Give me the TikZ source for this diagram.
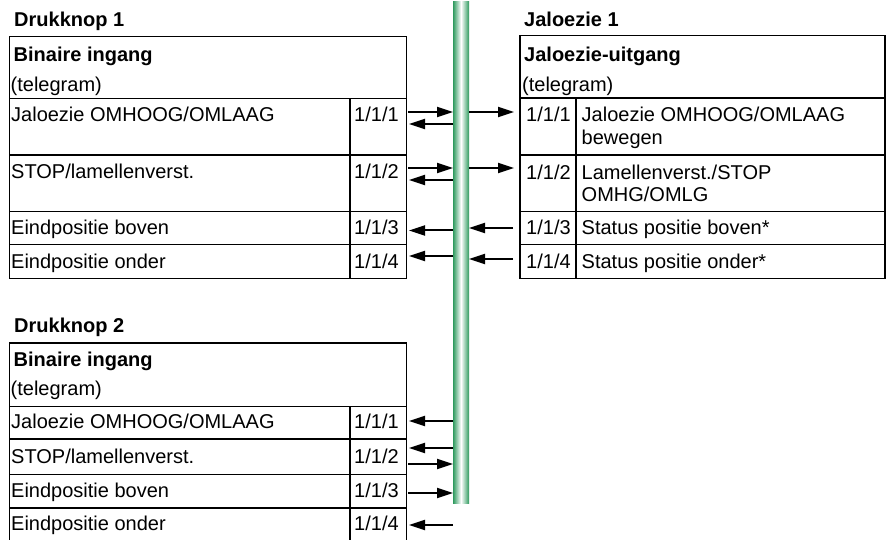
\documentclass[tikz,border=0pt]{standalone}
\usepackage{fontspec}
\setmainfont{Liberation Sans}
\usetikzlibrary{arrows.meta}
\definecolor{busgreen}{RGB}{46,154,94}
\begin{document}
\begin{tikzpicture}[x=1pt,y=-1pt,
  frame/.style={line width=1.8pt},
  txt/.style={anchor=base west, inner sep=0pt, font=\fontsize{20}{24}\selectfont},
  ttl/.style={anchor=base west, inner sep=0pt, font=\fontsize{20}{24}\selectfont\bfseries},
  sig/.style={line width=2pt, -{Triangle[length=16pt,width=10pt]}}]
\useasboundingbox (0,0) rectangle (886,540);

% bus line
\shade[left color=busgreen, right color=busgreen, middle color=white]
  (453,1.5) rectangle (469,503);

% ---- Drukknop 1 ----
\draw[frame] (9.5,36.5) rectangle (406.5,278.5);
\draw[frame] (9.5,98.5) -- (406.5,98.5)
             (9.5,155) -- (406.5,155)
             (9.5,211.5) -- (406.5,211.5)
             (9.5,244.5) -- (406.5,244.5)
             (350,98.5) -- (350,278.5);
\node[ttl] (t1) at (14,26.5) {Drukknop 1};
\node[ttl] (h1) at (13.5,61.5) {Binaire ingang};
\node[txt] (s1) at (10.5,92) {(telegram)};
\node[txt] (a1) at (11,122) {Jaloezie OMHOOG/OMLAAG};
\node[txt] (a2) at (11,179) {STOP/lamellenverst.};
\node[txt] (a3) at (11,235) {Eindpositie boven};
\node[txt] (a4) at (11,268.5) {Eindpositie onder};
\node[txt] (n1) at (354,122) {1/1/1};
\node[txt] (n2) at (354,179) {1/1/2};
\node[txt] (n3) at (354,235) {1/1/3};
\node[txt] (n4) at (354,268.5) {1/1/4};

% ---- Jaloezie 1 ----
\draw[frame] (520,35.5) rectangle (885,278.5);
\draw[frame] (520,98) -- (885,98)
             (520,155) -- (885,155)
             (520,211.5) -- (885,211.5)
             (520,244.5) -- (885,244.5)
             (576,98) -- (576,278.5);
\node[ttl] (t2) at (524,26.5) {Jaloezie 1};
\node[ttl] (h2) at (524,61.5) {Jaloezie-uitgang};
\node[txt] (s2) at (522,92) {(telegram)};
\node[txt] (m1) at (526,122) {1/1/1};
\node[txt] (m2) at (526,180) {1/1/2};
\node[txt] (m3) at (526,234.5) {1/1/3};
\node[txt] (m4) at (526,268.5) {1/1/4};
\node[txt] (b1) at (581.5,122) {Jaloezie OMHOOG/OMLAAG};
\node[txt] (b1x) at (581.5,144.5) {bewegen};
\node[txt] (b2) at (581.5,180) {Lamellenverst./STOP};
\node[txt] (b2x) at (581.5,202) {OMHG/OMLG};
\node[txt] (b3) at (581.5,234.5) {Status positie boven*};
\node[txt] (b4) at (581.5,268.5) {Status positie onder*};

% ---- Drukknop 2 ----
\draw[frame] (9.5,343) rectangle (406.5,541);
\draw[frame] (9.5,406.5) -- (406.5,406.5)
             (9.5,439) -- (406.5,439)
             (9.5,474.5) -- (406.5,474.5)
             (9.5,508) -- (406.5,508)
             (350,406.5) -- (350,541);
\node[ttl] (t3) at (14,332) {Drukknop 2};
\node[ttl] (h3) at (13.5,366) {Binaire ingang};
\node[txt] (s3) at (10.5,395) {(telegram)};
\node[txt] (c1) at (11,428.5) {Jaloezie OMHOOG/OMLAAG};
\node[txt] (c2) at (11,463.5) {STOP/lamellenverst.};
\node[txt] (c3) at (11,497) {Eindpositie boven};
\node[txt] (c4) at (11,530.5) {Eindpositie onder};
\node[txt] (k1) at (354,428.5) {1/1/1};
\node[txt] (k2) at (354,463.5) {1/1/2};
\node[txt] (k3) at (354,497) {1/1/3};
\node[txt] (k4) at (354,530.5) {1/1/4};

% connection points: table edges and bus edges
\coordinate (pL1a) at (408,112);   \coordinate (qL1a) at (453,112);
\coordinate (pL1b) at (409,124);   \coordinate (qL1b) at (453,124);
\coordinate (pR1)  at (514,112);   \coordinate (qR1)  at (469,112);
\coordinate (pL2a) at (408,168);   \coordinate (qL2a) at (453,168);
\coordinate (pL2b) at (409,180);   \coordinate (qL2b) at (453,180);
\coordinate (pR2)  at (514,168);   \coordinate (qR2)  at (469,168);
\coordinate (pL3)  at (409,230.5); \coordinate (qL3)  at (453,230.5);
\coordinate (pR3)  at (513,228);   \coordinate (qR3)  at (469,228);
\coordinate (pL4)  at (409,256);   \coordinate (qL4)  at (453,256);
\coordinate (pR4)  at (513,259);   \coordinate (qR4)  at (469,259);
\coordinate (pD1)  at (409,421);   \coordinate (qD1)  at (453,421);
\coordinate (pD2a) at (409,448);   \coordinate (qD2a) at (453,448);
\coordinate (pD2b) at (408,464);   \coordinate (qD2b) at (453,464);
\coordinate (pD3)  at (408,493);   \coordinate (qD3)  at (453,493);
\coordinate (pD4)  at (409,525);   \coordinate (qD4)  at (453,525);

% telegrams
\draw[sig] (pL1a) -- (qL1a);
\draw[sig] (qL1b) -- (pL1b);
\draw[sig] (qR1) -- (pR1);
\draw[sig] (pL2a) -- (qL2a);
\draw[sig] (qL2b) -- (pL2b);
\draw[sig] (qR2) -- (pR2);
\draw[sig] (qL3) -- (pL3);
\draw[sig] (pR3) -- (qR3);
\draw[sig] (qL4) -- (pL4);
\draw[sig] (pR4) -- (qR4);
\draw[sig] (qD1) -- (pD1);
\draw[sig] (qD2a) -- (pD2a);
\draw[sig] (pD2b) -- (qD2b);
\draw[sig] (pD3) -- (qD3);
\draw[sig] (qD4) -- (pD4);
\end{tikzpicture}
\end{document}
